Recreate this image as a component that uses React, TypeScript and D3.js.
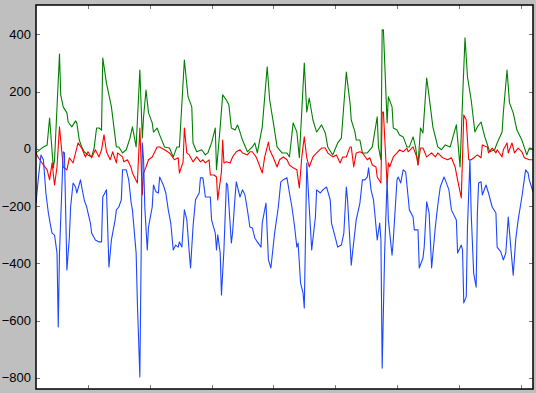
import { useEffect, useRef } from "react";
import * as d3 from "d3";

// [day, value] samples
const greenSeries: [number, number][] = [
  [8, -14], [14, 7], [17, 14], [19, 108], [22, -66], [23, -38], [27, 332], [28, 189], [30, 147], [33, 126],
  [34, 94], [37, 77], [40, 98], [41, 91], [43, 31], [45, 7], [47, -10], [50, -21], [53, -28], [55, 3],
  [57, 73], [59, 73], [61, 66], [62, 318], [65, 230], [69, 147], [73, 7], [75, 7], [78, -14], [81, -3],
  [84, 38], [86, 77], [89, 7], [92, 276], [94, 38], [95, 112], [97, 206], [99, 126], [102, 91], [103, 59],
  [106, 73], [108, 49], [112, 7], [116, 3], [119, -28], [122, 7], [124, 7], [128, 311], [131, 182], [134, 147],
  [135, 21], [138, -10], [142, -3], [145, -21], [147, -14], [150, 21], [153, 73], [154, -73], [157, 77], [159, 189],
  [162, 171], [164, 154], [166, 73], [169, 66], [171, 84], [173, 59], [175, 31], [179, -10], [183, 7], [185, 21],
  [187, -14], [191, 77], [195, 287], [197, 171], [200, 91], [203, 7], [207, -14], [211, -14], [213, -28], [216, 91],
  [219, 59], [221, -31], [225, 300], [227, 129], [229, 178], [232, 101], [235, 59], [239, 84], [242, 56], [244, 7],
  [248, -21], [252, 21], [255, 38], [259, 269], [260, 231], [262, 161], [263, 101], [266, 59], [267, 31], [270, 31],
  [272, -14], [276, -14], [280, 7], [284, 112], [285, 7], [287, -38], [288, 416], [289, 416], [292, 91], [293, 182],
  [296, 147], [297, 73], [300, 66], [302, 49], [305, 42], [308, 7], [310, 7], [313, 42], [315, 7], [317, -56],
  [319, 73], [321, 56], [324, 248], [326, 182], [329, 77], [333, 7], [336, -3], [339, 14], [343, 7], [348, 84],
  [351, -63], [353, 171], [355, 388], [357, 252], [360, 171], [363, 59], [365, 77], [368, 94], [371, 42], [375, -10],
  [379, -3], [381, 21], [385, 59], [386, 126], [389, 276], [391, 161], [394, 126], [397, 66], [401, 31], [405, -21],
  [407, 3], [410, 0],
];

const redSeries: [number, number][] = [
  [8, -14], [10, -31], [14, -56], [17, -73], [19, -108], [21, -49], [23, -126], [25, -63], [27, 77], [28, 31],
  [30, -63], [33, -73], [35, -31], [38, -49], [42, 21], [45, 3], [48, -28], [50, -10], [53, -31], [56, -3],
  [59, -28], [61, -3], [63, 49], [65, -10], [68, -38], [70, -10], [73, -49], [74, -14], [78, -28], [79, -45],
  [82, -38], [85, -66], [86, -84], [90, -119], [92, 73], [94, -161], [95, -84], [97, -63], [99, -38], [102, -28],
  [106, 7], [108, 7], [112, -3], [116, -14], [120, -38], [123, -31], [124, -84], [127, -45], [128, 73], [130, -14],
  [132, -21], [135, -45], [138, -28], [141, -45], [143, -38], [145, -49], [148, -38], [149, -91], [152, -91], [154, -98],
  [155, -178], [158, -80], [159, 31], [160, -49], [162, -45], [165, -49], [167, -28], [170, -10], [173, -3], [175, -14],
  [179, -21], [181, -10], [183, -10], [186, -28], [187, -38], [191, -84], [193, -28], [196, 24], [197, -3], [200, -31],
  [203, -63], [205, -38], [208, -28], [211, -38], [213, -56], [216, -66], [219, -73], [221, -136], [223, -28], [225, 42],
  [227, -31], [229, -63], [232, -28], [235, -14], [239, 3], [242, 3], [244, -14], [248, -28], [251, -21], [254, -49],
  [256, -28], [259, -28], [262, 7], [263, 7], [265, -63], [267, -14], [270, -10], [272, -14], [276, -38], [278, -31],
  [280, -56], [283, -63], [284, -98], [287, -119], [288, 129], [289, 129], [292, -126], [293, -49], [294, -63], [297, -28],
  [300, -14], [302, -3], [305, -10], [308, 3], [309, -10], [313, 7], [316, -28], [317, -56], [319, 3], [321, 3],
  [324, -28], [328, -14], [331, -28], [333, -14], [337, -31], [341, -38], [344, -31], [347, -63], [349, -108], [352, -171],
  [354, 119], [356, 101], [358, -38], [360, -38], [363, -28], [365, -21], [368, -31], [369, 14], [373, 7], [374, -14],
  [377, 3], [380, -14], [381, -3], [385, -28], [386, -3], [389, 21], [390, -14], [393, 21], [395, -14], [398, 3],
  [401, -10], [403, -31], [407, -38], [410, -38],
];

const blueSeries: [number, number][] = [
  [8, -189], [10, -98], [12, -21], [14, -38], [16, -154], [18, -224], [20, -273], [21, -294], [23, -301], [25, -364],
  [26, -622], [27, -364], [30, -10], [31, -14], [33, -423], [35, -308], [36, -203], [38, -119], [40, -133], [41, -154],
  [44, -108], [45, -133], [47, -178], [49, -203], [52, -259], [53, -294], [56, -318], [59, -325], [61, -325], [62, -168],
  [65, -143], [67, -413], [69, -318], [72, -248], [73, -213], [75, -203], [77, -178], [78, -73], [81, -73], [83, -108],
  [85, -189], [86, -213], [89, -364], [90, -538], [92, -797], [94, 21], [95, -38], [96, -203], [98, -353], [99, -273],
  [102, -203], [103, -126], [105, -150], [107, -154], [108, -98], [111, -126], [113, -154], [115, -213], [117, -259], [119, -353],
  [121, -336], [123, -343], [124, -325], [126, -343], [128, -213], [130, -248], [132, -364], [133, -416], [135, -273], [137, -178],
  [140, -154], [141, -101], [143, -101], [145, -168], [149, -168], [150, -248], [153, -294], [154, -353], [155, -300], [157, -364],
  [158, -510], [160, -353], [162, -119], [163, -126], [166, -329], [167, -294], [169, -168], [170, -115], [173, -168], [175, -143],
  [177, -161], [179, -213], [181, -273], [183, -276], [185, -311], [187, -325], [190, -343], [191, -259], [194, -189], [196, -388],
  [198, -416], [201, -294], [204, -203], [206, -115], [208, -108], [211, -101], [213, -154], [215, -203], [217, -266], [219, -343],
  [220, -329], [222, -469], [224, -503], [225, -556], [227, -49], [229, -203], [231, -353], [234, -238], [235, -143], [238, -154],
  [240, -143], [243, -133], [246, -178], [247, -259], [250, -308], [252, -343], [255, -336], [257, -294], [259, -133], [260, -178],
  [263, -406], [264, -364], [267, -248], [270, -189], [272, -108], [274, -108], [276, -98], [277, -66], [279, -143], [281, -178],
  [282, -224], [284, -318], [286, -259], [287, -318], [288, -766], [290, -364], [292, -108], [293, -248], [296, -371], [297, -318],
  [300, -108], [301, -98], [303, -119], [305, -73], [307, -80], [309, -168], [310, -213], [313, -238], [314, -283], [317, -283],
  [318, -416], [321, -381], [322, -343], [324, -185], [326, -224], [328, -416], [331, -273], [333, -196], [335, -133], [338, -98],
  [339, -108], [342, -143], [344, -213], [348, -248], [349, -364], [352, -336], [353, -353], [354, -538], [356, -517], [357, -273],
  [359, -38], [360, -224], [362, -434], [364, -483], [365, -224], [366, -119], [368, -115], [369, -161], [372, -126], [374, -154],
  [377, -203], [380, -224], [381, -343], [384, -360], [386, -388], [388, -364], [390, -238], [392, -343], [394, -441], [396, -318],
  [398, -248], [401, -168], [404, -73], [406, -84], [407, -108], [410, -150],
];

const yTicks = [400, 200, 0, -200, -400, -600, -800];
const xTicks = [50, 100, 150, 200, 250, 300, 350, 400];

const seriesList = [
  { name: "green", data: greenSeries, color: "#008000" },
  { name: "red", data: redSeries, color: "#ff0000" },
  { name: "blue", data: blueSeries, color: "#1c46ff" },
];

const W = 536;
const H = 393;
const plot = { left: 36, right: 533, top: 5, bottom: 389 };

export default function App() {
  const svgRef = useRef<SVGSVGElement>(null);

  useEffect(() => {
    if (!svgRef.current) return;
    document.body.style.margin = "0";

    const svg = d3.select(svgRef.current);
    svg.selectAll("*").remove();

    const x = d3.scaleLinear().domain([8, 410]).range([plot.left, plot.right]);
    const y = d3.scaleLinear().domain([-839, 503]).range([plot.bottom, plot.top]);

    svg.append("rect").attr("width", W).attr("height", H).attr("fill", "#bfbfbf");
    svg.append("rect")
      .attr("x", plot.left).attr("y", plot.top)
      .attr("width", plot.right - plot.left).attr("height", plot.bottom - plot.top)
      .attr("fill", "#fff");

    svg.append("defs").append("clipPath").attr("id", "plot-clip")
      .append("rect")
      .attr("x", plot.left).attr("y", plot.top)
      .attr("width", plot.right - plot.left).attr("height", plot.bottom - plot.top);

    const line = d3.line<[number, number]>()
      .x((d) => x(d[0]))
      .y((d) => y(d[1]));

    const lines = svg.append("g").attr("clip-path", "url(#plot-clip)");
    seriesList.forEach((s) => {
      lines.append("path")
        .attr("d", line(s.data) ?? "")
        .attr("fill", "none")
        .attr("stroke", s.color)
        .attr("stroke-width", 1.1)
        .attr("stroke-linejoin", "round");
    });

    // inward ticks on all four sides
    const ticks = svg.append("g").attr("stroke", "#777").attr("stroke-width", 1);
    xTicks.forEach((t) => {
      const px = Math.round(x(t)) + 0.5;
      ticks.append("line").attr("x1", px).attr("x2", px).attr("y1", plot.top).attr("y2", plot.top + 4);
      ticks.append("line").attr("x1", px).attr("x2", px).attr("y1", plot.bottom).attr("y2", plot.bottom - 4);
    });
    yTicks.forEach((t) => {
      const py = Math.round(y(t)) + 0.5;
      ticks.append("line").attr("x1", plot.left).attr("x2", plot.left + 4).attr("y1", py).attr("y2", py);
      ticks.append("line").attr("x1", plot.right).attr("x2", plot.right - 4).attr("y1", py).attr("y2", py);
    });

    svg.append("g")
      .selectAll("text")
      .data(yTicks)
      .join("text")
      .attr("x", plot.left - 5)
      .attr("y", (d) => y(d))
      .attr("dy", "0.35em")
      .attr("text-anchor", "end")
      .attr("font-family", "'Liberation Sans', Arial, sans-serif")
      .attr("font-size", 13)
      .attr("fill", "#000")
      .text((d) => (d < 0 ? `\u2212${Math.abs(d)}` : `${d}`));

    svg.append("rect")
      .attr("x", plot.left).attr("y", plot.top)
      .attr("width", plot.right - plot.left).attr("height", plot.bottom - plot.top)
      .attr("fill", "none")
      .attr("stroke", "#000")
      .attr("stroke-width", 1.5);
  }, []);

  return (
    <div style={{ position: "absolute", left: 0, top: 0 }}>
      <svg ref={svgRef} width={W} height={H} style={{ display: "block" }} />
    </div>
  );
}
